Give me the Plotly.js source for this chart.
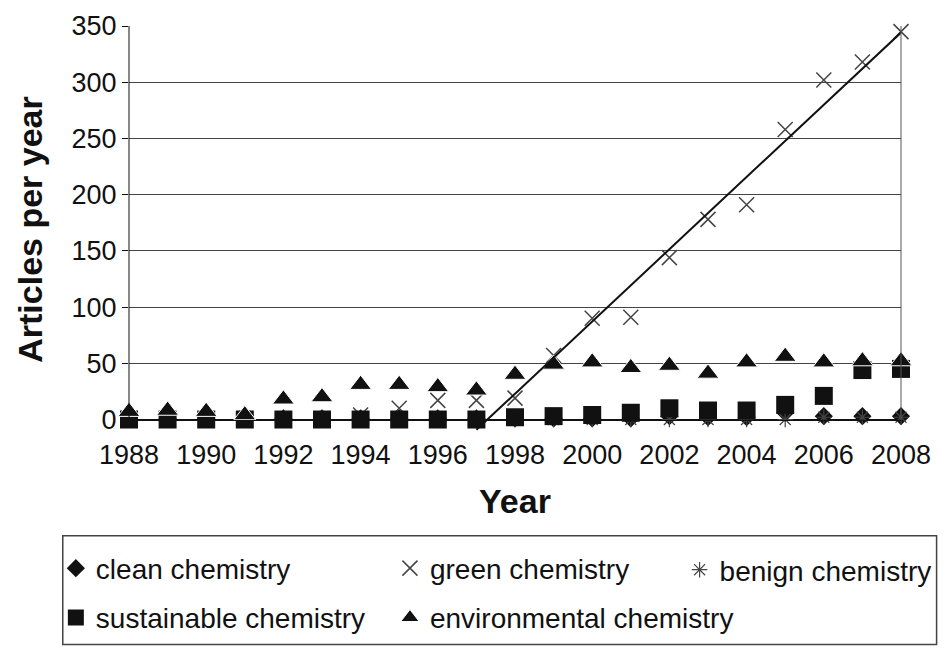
<!DOCTYPE html>
<html>
<head>
<meta charset="utf-8">
<script src="https://cdn.plot.ly/plotly-3.0.1.min.js"></script>
<style>
  html, body { margin: 0; padding: 0; background: #fff; }
  #chart { width: 949px; height: 655px; }
</style>
</head>
<body>
<div id="chart"></div>
<script>
// ---- data ----
const years = [1988,1989,1990,1991,1992,1993,1994,1995,1996,1997,1998,1999,2000,2001,2002,2003,2004,2005,2006,2007,2008];
const cleanChem =        [1,1,1,1,1,1,1,1,1,1,1,1,1,1,3,2,2,6,3,3,3];
const greenChem =        [0,0,0,0,0,0,4,10,17,17,19,57,90,91,144,178,191,258,302,318,345];
const benignChem =       [0,0,0,3,0,0,0,0,0,0,0,0,0,0,0,0,0,0,2,2,2];
const sustainableChem =  [0,0,0,0,0,0,0,0,0,0,2,3,4,6,10,8,8,13,21,44,45];
const environmentalChem =[7,8,7,4,18,20,31,31,29,26,40,49,51,46,48,41,51,56,51,52,52];
const yTicks = [0,50,100,150,200,250,300,350];
const xTicks = [1988,1990,1992,1994,1996,1998,2000,2002,2004,2006,2008];
const trendStartYear = 1997;

// linear trend of green chemistry (least squares over trendStartYear..end)
const tx = [], ty = [];
years.forEach((y, i) => { if (y >= trendStartYear) { tx.push(y); ty.push(greenChem[i]); } });
const mx = tx.reduce((a, b) => a + b, 0) / tx.length;
const my = ty.reduce((a, b) => a + b, 0) / ty.length;
let sxy = 0, sxx = 0;
tx.forEach((x, i) => { sxy += (x - mx) * (ty[i] - my); sxx += (x - mx) * (x - mx); });
const slope = sxy / sxx;
const trendX = [tx[0], tx[tx.length - 1]];
const trendY = trendX.map(x => my + slope * (x - mx));

const yMin = -12, yMax = 350;
const FONT = 'Liberation Sans, Arial, Helvetica, sans-serif';
const W = 949, H = 655;

const traces = [
  { x: years, y: cleanChem, name: 'clean chemistry', type: 'scatter', mode: 'markers', cliponaxis: false,
    legend: 'legend', legendgroup: 'a',
    marker: { symbol: 'diamond', size: 14, color: '#111' } },
  { x: years, y: greenChem, name: 'green chemistry', type: 'scatter', mode: 'markers', cliponaxis: false,
    legend: 'legend2', legendgroup: 'b',
    marker: { symbol: 'x-thin-open', size: 15, color: '#444', line: { color: '#444', width: 1.5 } } },
  { x: years, y: benignChem, name: 'benign chemistry', type: 'scatter', mode: 'markers', cliponaxis: false,
    legend: 'legend3', legendgroup: 'c',
    marker: { symbol: 'asterisk-open', size: 13, color: '#444', line: { color: '#444', width: 1.2 } } },
  { x: years, y: sustainableChem, name: 'sustainable chemistry', type: 'scatter', mode: 'markers', cliponaxis: false,
    legend: 'legend', legendgroup: 'd',
    marker: { symbol: 'square', size: 18, color: '#111' } },
  { x: years, y: environmentalChem, name: 'environmental chemistry', type: 'scatter', mode: 'markers', cliponaxis: false,
    legend: 'legend2', legendgroup: 'e',
    marker: { symbol: 'triangle-up', size: 19, color: '#111', line: { color: '#fff', width: 1 } } },
  { x: trendX, y: trendY, name: 'trend', type: 'scatter', mode: 'lines', showlegend: false,
    line: { color: '#111', width: 2 } }
];

const plotTop = 26, plotBottom = 438, plotLeft = 129, plotRight = 910;
const pxToPaperX = p => (p - plotLeft) / (plotRight - plotLeft);
const pxToPaperY = p => (plotBottom - p) / (plotBottom - plotTop);

const legendCommon = {
  orientation: 'v', traceorder: 'grouped', tracegroupgap: 10,
  font: { family: FONT, size: 28, color: '#111' },
  bgcolor: 'rgba(0,0,0,0)', borderwidth: 0, itemwidth: 30,
  xanchor: 'left', yanchor: 'bottom', y: pxToPaperY(650)
};

const layout = {
  width: W, height: H,
  margin: { l: plotLeft, r: W - plotRight, t: plotTop, b: H - plotBottom },
  paper_bgcolor: '#fff', plot_bgcolor: '#fff',
  font: { family: FONT, color: '#111' },
  showlegend: true,
  xaxis: {
    range: [1988, 2008], tickvals: xTicks, ticks: '', showgrid: false, zeroline: false,
    anchor: 'free', position: (0 - yMin) / (yMax - yMin),
    showline: true, linecolor: '#111', linewidth: 1,
    ticklabelstandoff: 11,
    tickfont: { family: FONT, size: 27, color: '#111' },
    title: { text: '<b>Year</b>', font: { family: FONT, size: 34, color: '#111' }, standoff: 20 }
  },
  yaxis: {
    range: [yMin, yMax], tickvals: yTicks, ticks: 'outside', ticklen: 6, tickcolor: '#111',
    showgrid: true, gridcolor: '#444', gridwidth: 1,
    zeroline: true, zerolinecolor: '#111', zerolinewidth: 1,
    showline: false,
    tickfont: { family: FONT, size: 27, color: '#111' },
    title: { text: '<b>Articles per year</b>', font: { family: FONT, size: 34, color: '#111' }, standoff: 18 }
  },
  legend: Object.assign({}, legendCommon, { x: pxToPaperX(55) }),
  legend2: Object.assign({}, legendCommon, { x: pxToPaperX(393) }),
  legend3: Object.assign({}, legendCommon, { x: pxToPaperX(946), xanchor: 'right', y: pxToPaperY(602) }),
  shapes: [
    { type: 'line', xref: 'paper', yref: 'y', x0: 0, x1: 0, y0: 0, y1: yMax, line: { color: '#111', width: 1 } },
    { type: 'line', xref: 'paper', yref: 'y', x0: 1, x1: 1, y0: 0, y1: yMax, line: { color: '#555', width: 1 } },
    { type: 'rect', xref: 'paper', yref: 'paper',
      x0: pxToPaperX(62), x1: pxToPaperX(946), y0: pxToPaperY(542), y1: pxToPaperY(652),
      line: { color: '#444', width: 1.5 }, fillcolor: 'rgba(0,0,0,0)' }
  ]
};

Plotly.newPlot('chart', traces, layout, { displayModeBar: false, staticPlot: true });
</script>
</body>
</html>
